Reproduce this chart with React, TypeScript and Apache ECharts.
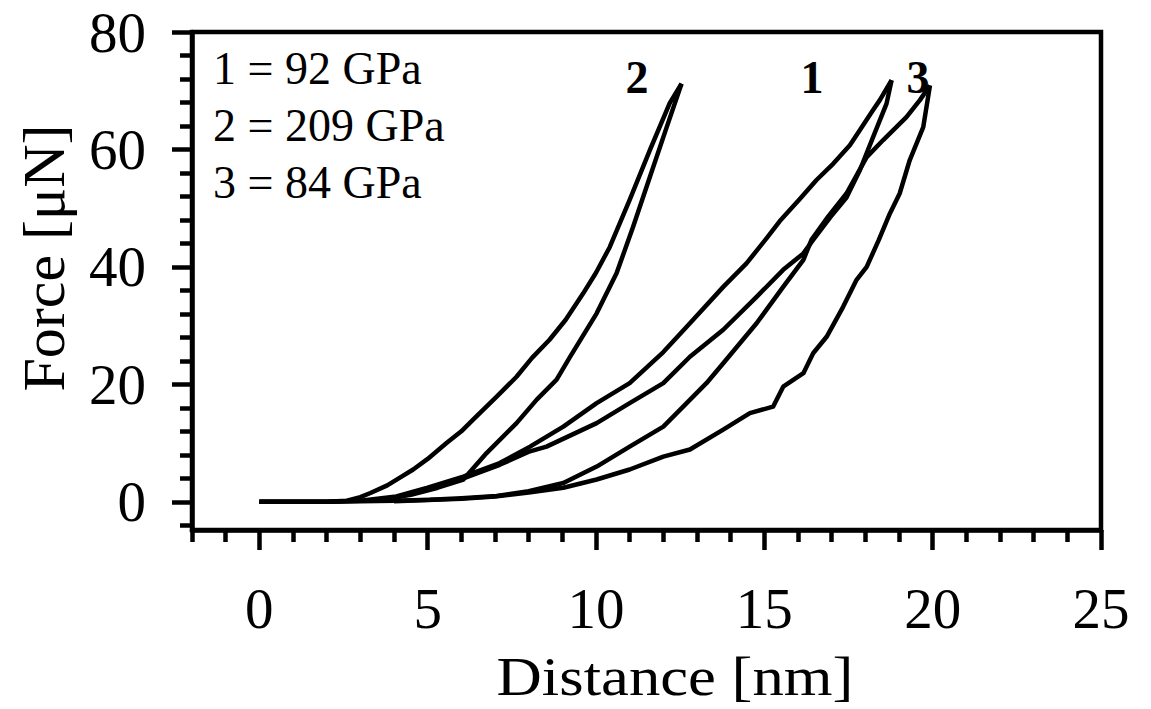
import React, { useEffect, useRef } from "react";
import * as echarts from "echarts";

// Tick values
const xMajorTicks = [0, 5, 10, 15, 20, 25];
const xMinorTicks = [-2, -1, 1, 2, 3, 4, 6, 7, 8, 9, 11, 12, 13, 14, 16, 17, 18, 19, 21, 22, 23, 24];
const yMajorTicks = [0, 20, 40, 60, 80];
const yMinorTicks = [-4, 4, 8, 12, 16, 24, 28, 32, 36, 44, 48, 52, 56, 64, 68, 72, 76];

// Legend texts
const legendLines = ["1 = 92 GPa", "2 = 209 GPa", "3 = 84 GPa"];
const curveLabels = ["2", "1", "3"];

// Curve 2 (209 GPa)
const curve2Load: [number, number][] = [
  [0, 0], [1, 0], [2, 0], [2.6, 0.2], [3.0, 0.8], [3.3, 1.5], [3.8, 2.8], [4.2, 4.2], [4.57, 5.5],
  [5.0, 7.3], [5.56, 10.0], [6.0, 12.0], [6.35, 14.0], [7.05, 17.9], [7.64, 21.3], [8.1, 24.5],
  [8.62, 27.6], [9.1, 31.0], [9.62, 35.5], [10.0, 39.0], [10.41, 43.4], [11.0, 51.4], [11.6, 59.9],
  [12.19, 67.9], [12.54, 71.2],
];
const curve2Unload: [number, number][] = [
  [12.54, 71.2], [12.1, 63.8], [11.6, 55.3], [11.1, 46.8], [10.61, 38.9], [10.02, 32.1],
  [9.22, 24.6], [8.83, 20.8], [8.24, 17.4], [7.64, 13.4], [6.75, 8.3], [6.06, 3.8], [5.3, 2.4],
  [4.5, 1.2], [3.8, 0.5],
];

// Curve 1 (92 GPa)
const curve1Load: [number, number][] = [
  [0, 0], [2, 0], [3.0, 0.2], [4.07, 0.9], [5.0, 2.4], [6.06, 4.3], [7.14, 6.6], [8.04, 9.4],
  [9.03, 12.8], [10.02, 16.8], [11.0, 20.2], [12.0, 25.5], [12.79, 30.4], [13.78, 36.6],
  [14.47, 40.6], [15.07, 44.9], [15.46, 47.8], [16.06, 51.6], [16.55, 54.8], [17.05, 57.6],
  [17.54, 60.7], [17.84, 63.3], [18.23, 66.7], [18.43, 68.4], [18.78, 71.8],
];
const curve1Unload: [number, number][] = [
  [18.78, 71.8], [18.63, 67.8], [18.23, 62.1], [17.84, 56.5], [17.44, 51.8], [16.95, 48.4],
  [16.45, 44.6], [16.16, 42.3], [15.56, 39.5], [14.77, 34.9], [13.78, 29.3], [12.79, 24.7],
  [12.0, 20.2], [11.0, 16.8], [10.02, 13.4], [8.53, 9.4], [8.04, 8.6], [7.14, 6.3], [6.06, 4.0],
  [5.0, 2.2], [4.07, 0.8], [3.3, 0.2],
];

// Curve 3 (84 GPa)
const curve3Load: [number, number][] = [
  [0, 0], [2, 0], [3, 0.1], [4, 0.2], [5.07, 0.35], [6, 0.6], [7.05, 1.0], [8, 1.8], [9.03, 3.2],
  [10.02, 6.0], [11.0, 9.4], [12.0, 12.8], [12.59, 16.2], [13.28, 20.2], [13.78, 23.6],
  [14.77, 30.4], [15.56, 36.6], [16.16, 41.2], [16.4, 44.6], [16.9, 48.6], [17.44, 52.5],
  [18.04, 58.7], [18.53, 61.6], [19.22, 65.5], [19.62, 68.4], [19.92, 70.9],
];
const curve3Unload: [number, number][] = [
  [19.92, 70.9], [19.72, 63.8], [19.32, 58.2], [19.02, 52.5], [18.73, 49.1], [18.4, 44.6],
  [18.04, 40.0], [17.74, 37.8], [17.34, 33.2], [16.85, 28.1], [16.45, 25.3], [16.16, 21.9],
  [15.56, 19.6], [15.26, 16.2], [14.57, 15.1], [13.78, 12.3], [12.79, 8.9], [12.0, 7.7],
  [11.0, 5.5], [10.02, 3.8], [9.03, 2.4], [8.0, 1.6], [7.0, 0.9], [6.0, 0.5], [5.0, 0.3], [4.0, 0.1],
];

const seriesList = [curve2Load, curve2Unload, curve1Load, curve1Unload, curve3Load, curve3Unload];

const FONT = '"Liberation Serif", "Times New Roman", serif';

export default function App() {
  const ref = useRef<HTMLDivElement>(null);
  useEffect(() => {
    if (!ref.current) return;
    const chart = echarts.init(ref.current, undefined, { renderer: "svg" });
    const tickLabelStyle = { color: "#000", fontFamily: FONT, fontSize: 57 };
    const axisLineStyle = { color: "#000", width: 4.5 };
    const txt = (
      text: string,
      x: number,
      y: number,
      size: number,
      bold = false,
      align = "left",
      rotation = 0,
      scaleX = 1
    ) => ({
      type: "text",
      x,
      y,
      rotation,
      scaleX,
      style: {
        text,
        font: `${bold ? "bold " : ""}${size}px ${FONT}`,
        fill: "#000",
        align,
        verticalAlign: "middle",
        textAlign: align,
        textVerticalAlign: "middle",
      },
    });
    chart.setOption({
      animation: false,
      backgroundColor: "#fff",
      grid: {
        left: 192,
        right: 50,
        top: 32,
        bottom: 179,
        show: true,
        borderColor: "#000",
        borderWidth: 4.5,
        backgroundColor: "transparent",
      },
      xAxis: [
        {
          type: "value",
          position: "bottom",
          min: -2,
          max: 25,
          axisLine: { show: true, onZero: false, lineStyle: axisLineStyle },
          axisTick: { show: true, customValues: xMajorTicks, length: 20, lineStyle: { color: "#000", width: 4.5 } },
          axisLabel: { show: true, customValues: xMajorTicks, margin: 50, ...tickLabelStyle },
          splitLine: { show: false },
        },
        {
          type: "value",
          position: "bottom",
          min: -2,
          max: 25,
          axisLine: { show: false, onZero: false },
          axisTick: { show: true, customValues: xMinorTicks, length: 12, lineStyle: { color: "#000", width: 4.5 } },
          axisLabel: { show: false },
          splitLine: { show: false },
        },
      ],
      yAxis: [
        {
          type: "value",
          position: "left",
          min: -4.8,
          max: 80,
          axisLine: { show: true, onZero: false, lineStyle: axisLineStyle },
          axisTick: { show: true, customValues: yMajorTicks, length: 20, lineStyle: { color: "#000", width: 4.5 } },
          axisLabel: { show: true, customValues: yMajorTicks, margin: 46, ...tickLabelStyle },
          splitLine: { show: false },
        },
        {
          type: "value",
          position: "left",
          min: -4.8,
          max: 80,
          axisLine: { show: false, onZero: false },
          axisTick: { show: true, customValues: yMinorTicks, length: 12, lineStyle: { color: "#000", width: 4.5 } },
          axisLabel: { show: false },
          splitLine: { show: false },
        },
      ],
      series: seriesList.map((d) => ({
        type: "line",
        data: d,
        xAxisIndex: 0,
        yAxisIndex: 0,
        showSymbol: false,
        symbol: "none",
        lineStyle: { color: "#000", width: 4.5, join: "round" },
        silent: true,
      })),
      graphic: [
        txt(legendLines[0], 213, 68, 46),
        txt(legendLines[1], 213, 125, 46),
        txt(legendLines[2], 213, 182, 46),
        txt(curveLabels[0], 637, 77, 46, true, "center"),
        txt(curveLabels[1], 812, 77, 46, true, "center"),
        txt(curveLabels[2], 918, 77, 46, true, "center"),
        txt("Distance [nm]", 675, 676, 56, false, "center", 0, 1.12),
        txt("Force [μN]", 44, 258, 60, false, "center", Math.PI / 2),
      ],
    });
    return () => chart.dispose();
  }, []);
  return (
    <div
      ref={ref}
      style={{ position: "fixed", left: 0, top: 0, width: 1151, height: 709, background: "#fff" }}
    />
  );
}
